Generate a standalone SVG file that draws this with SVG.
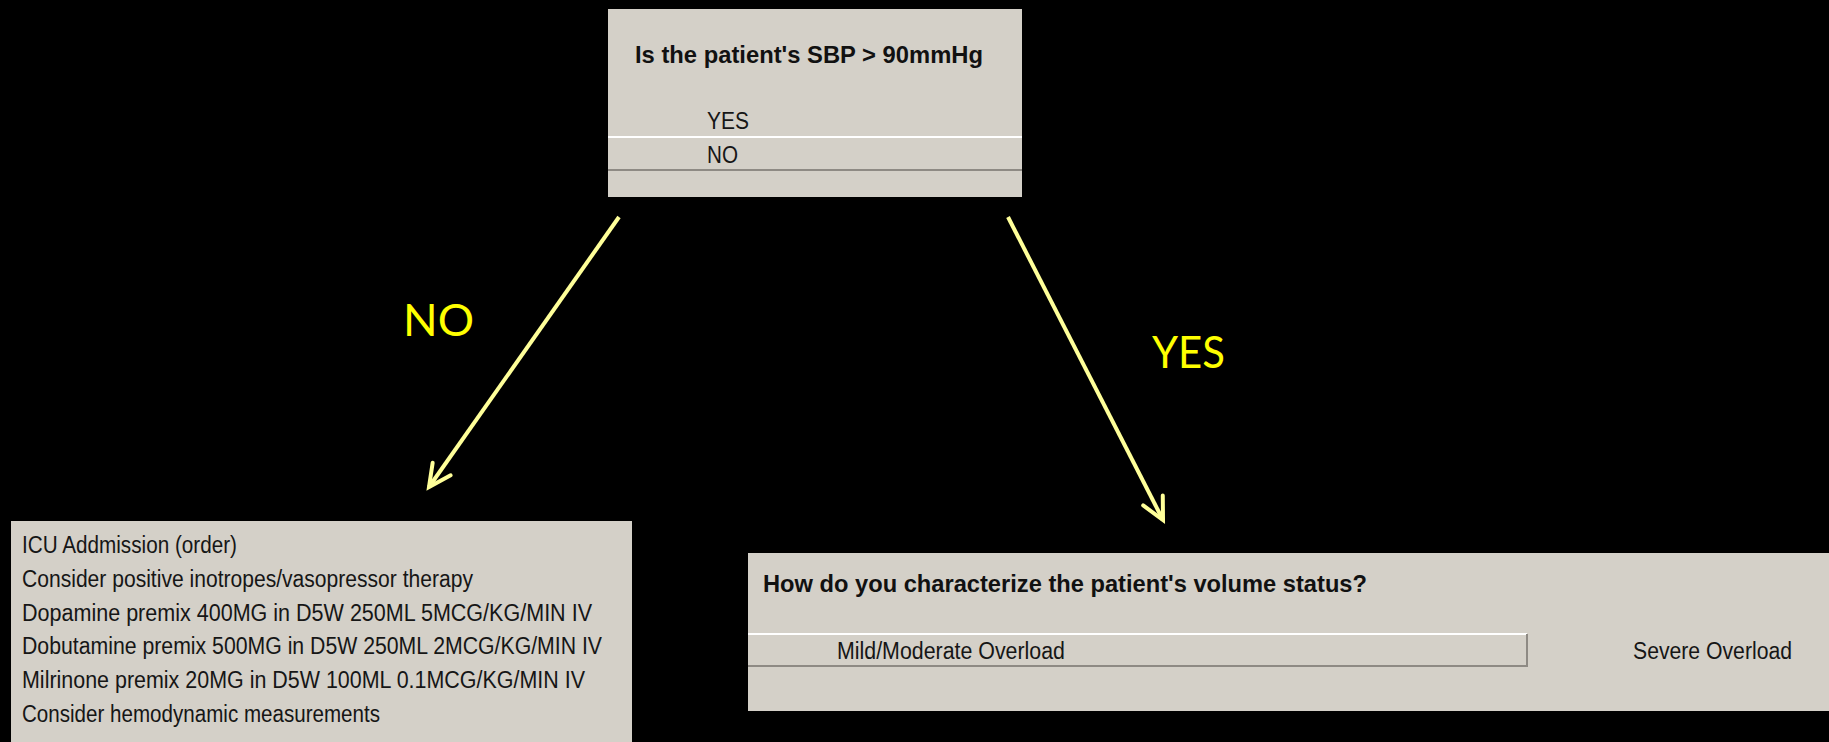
<svg xmlns="http://www.w3.org/2000/svg" width="1829" height="742" viewBox="0 0 1829 742">
  <style>
    .box { fill: #D4D0C8; }
    .t { font-family: "Liberation Sans", Arial, sans-serif; font-size: 23px; fill: #161616; }
    .b { font-family: "Liberation Sans", Arial, sans-serif; font-size: 24px; font-weight: bold; fill: #111; }
    .lbl { font-family: Lato, "Liberation Sans", sans-serif; font-size: 44px; fill: #FFFF00; }
    .hi { stroke: #FFFFFF; stroke-width: 2; }
    .sh { stroke: #8E8A84; stroke-width: 2; fill: none; }
    .arrow { stroke: #FFFF99; stroke-width: 4; fill: none; marker-end: url(#head); }
  </style>
  <defs>
    <marker id="head" markerUnits="userSpaceOnUse" orient="auto" refX="0" refY="0" markerWidth="40" markerHeight="40" viewBox="-30 -20 40 40" overflow="visible">
      <path d="M -22 -11 L 0 0 L -22 11" fill="none" stroke="#FFFF99" stroke-width="4" stroke-linecap="round" stroke-linejoin="miter"/>
    </marker>
  </defs>
  <rect x="0" y="0" width="1829" height="742" fill="#000000"/>

  <g id="node-sbp">
    <rect class="box" x="608" y="9" width="414" height="188"/>
    <text class="b" x="635" y="63" textLength="348" lengthAdjust="spacingAndGlyphs">Is the patient's SBP &gt; 90mmHg</text>
    <text class="t" x="707" y="129" textLength="42" lengthAdjust="spacingAndGlyphs">YES</text>
    <line class="hi" x1="608" y1="137" x2="1022" y2="137"/>
    <text class="t" x="707" y="163" textLength="31" lengthAdjust="spacingAndGlyphs">NO</text>
    <line class="sh" x1="608" y1="170" x2="1022" y2="170"/>
  </g>

  <g id="node-no-orders">
    <rect class="box" x="11" y="521" width="621" height="221"/>
    <text class="t" x="22" y="553" textLength="215" lengthAdjust="spacingAndGlyphs">ICU Addmission (order)</text>
    <text class="t" x="22" y="587" textLength="451" lengthAdjust="spacingAndGlyphs">Consider positive inotropes/vasopressor therapy</text>
    <text class="t" x="22" y="621" textLength="570" lengthAdjust="spacingAndGlyphs">Dopamine premix 400MG in D5W 250ML 5MCG/KG/MIN IV</text>
    <text class="t" x="22" y="654" textLength="580" lengthAdjust="spacingAndGlyphs">Dobutamine premix 500MG in D5W 250ML 2MCG/KG/MIN IV</text>
    <text class="t" x="22" y="688" textLength="563" lengthAdjust="spacingAndGlyphs">Milrinone premix 20MG in D5W 100ML 0.1MCG/KG/MIN IV</text>
    <text class="t" x="22" y="722" textLength="358" lengthAdjust="spacingAndGlyphs">Consider hemodynamic measurements</text>
  </g>

  <g id="node-volume">
    <rect class="box" x="748" y="553" width="1081" height="158"/>
    <text class="b" x="763" y="592" font-size="22" textLength="604" lengthAdjust="spacingAndGlyphs">How do you characterize the patient's volume status?</text>
    <line class="hi" x1="748" y1="634" x2="1527" y2="634"/>
    <path class="sh" d="M 748 666 L 1527 666 L 1527 634"/>
    <text class="t" x="837" y="659" textLength="228" lengthAdjust="spacingAndGlyphs">Mild/Moderate Overload</text>
    <text class="t" x="1633" y="659" textLength="159" lengthAdjust="spacingAndGlyphs">Severe Overload</text>
  </g>

  <g id="connectors">
    <path class="arrow" d="M 619 217 L 429 487"/>
    <path class="arrow" d="M 1008 217 L 1163 520"/>
    <text class="lbl" x="403" y="336" textLength="71" lengthAdjust="spacingAndGlyphs">NO</text>
    <text class="lbl" x="1152" y="368" textLength="73" lengthAdjust="spacingAndGlyphs">YES</text>
  </g>
</svg>
